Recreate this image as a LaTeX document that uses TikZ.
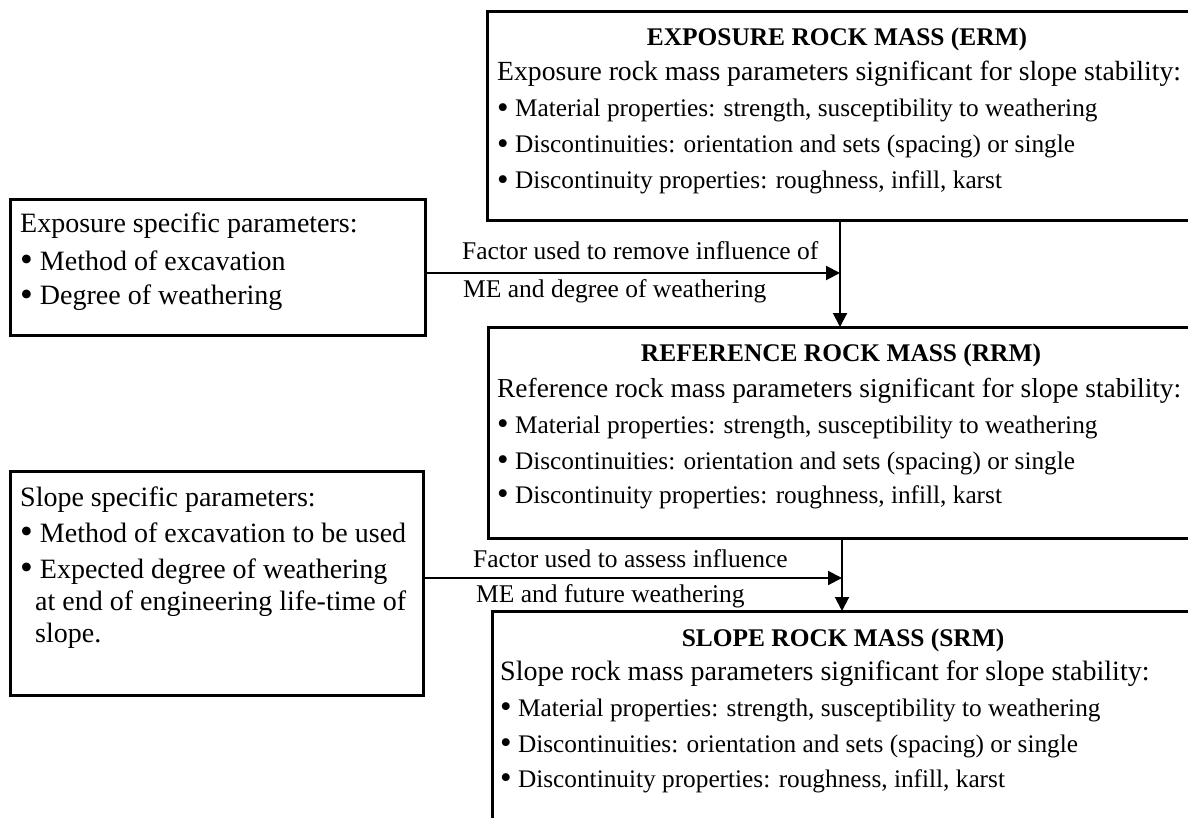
\documentclass[tikz,border=0pt]{standalone}
\usepackage{fontspec}
\setmainfont{Liberation Serif}
\usetikzlibrary{arrows.meta}
\newcommand{\mybullet}{\raisebox{-0.07em}{\scalebox{1.3}{\textbullet}}}
\begin{document}
\begin{tikzpicture}[x=1pt,y=-1pt,
  box/.style={draw, line width=3pt, inner sep=0pt, outer sep=0pt},
  big/.style={anchor=base west, inner sep=0pt, font=\fontsize{28}{34}\selectfont},
  bul/.style={anchor=base west, inner sep=0pt, font=\fontsize{25.3}{30}\selectfont},
  ttl/.style={anchor=base, inner sep=0pt, font=\fontsize{25.4}{30}\selectfont\bfseries},
  lab/.style={anchor=base west, inner sep=0pt, font=\fontsize{25.5}{30}\selectfont},
  arr/.style={line width=2pt, -{Triangle[length=14pt,width=14pt]}}
]
\path[use as bounding box, fill=white] (0,0) rectangle (1188,818);

% boxes
\node[box, minimum width=705pt, minimum height=209pt] (erm) at (839.5,116.5) {};
\node[box, minimum width=415pt, minimum height=135pt] (esp) at (217.5,267.5) {};
\node[box, minimum width=704pt, minimum height=211pt] (rrm) at (840,432.5) {};
\node[box, minimum width=413pt, minimum height=224pt] (ssp) at (216.5,583) {};
\node[box, minimum width=700pt, minimum height=289pt] (srm) at (842,755.5) {};

% ERM text
\node[ttl] (ermt) at (837,46) {EXPOSURE ROCK MASS (ERM)};
\node[big, font=\fontsize{27.7}{34}\selectfont] (ermi) at (497,81) {Exposure rock mass parameters significant for slope stability:};
\node[bul] (ermb1) at (497,117) {\mybullet\ Material properties: strength, susceptibility to weathering};
\node[bul] (ermb2) at (497,153) {\mybullet\ Discontinuities: orientation and sets (spacing) or single};
\node[bul] (ermb3) at (497,189) {\mybullet\ Discontinuity properties: roughness, infill, karst};

% ESP text
\node[big] (espi) at (20,233) {Exposure specific parameters:};
\node[big] (espb1) at (20,270) {\mybullet\ Method of excavation};
\node[big] (espb2) at (20,305) {\mybullet\ Degree of weathering};

% RRM text
\node[ttl] (rrmt) at (841,361) {REFERENCE ROCK MASS (RRM)};
\node[big, font=\fontsize{27.4}{34}\selectfont] (rrmi) at (497,397) {Reference rock mass parameters significant for slope stability:};
\node[bul] (rrmb1) at (497,433) {\mybullet\ Material properties: strength, susceptibility to weathering};
\node[bul] (rrmb2) at (497,469) {\mybullet\ Discontinuities: orientation and sets (spacing) or single};
\node[bul] (rrmb3) at (497,503) {\mybullet\ Discontinuity properties: roughness, infill, karst};

% SSP text
\node[big] (sspi) at (20,506) {Slope specific parameters:};
\node[big] (sspb1) at (20,542) {\mybullet\ Method of excavation to be used};
\node[big] (sspb2) at (20,578) {\mybullet\ Expected degree of weathering};
\node[big] (sspb3) at (35,610) {at end of engineering life-time of};
\node[big] (sspb4) at (35,642) {slope.};

% SRM text
\node[ttl] (srmt) at (843,646) {SLOPE ROCK MASS (SRM)};
\node[big] (srmi) at (500,680) {Slope rock mass parameters significant for slope stability:};
\node[bul] (srmb1) at (500,716) {\mybullet\ Material properties: strength, susceptibility to weathering};
\node[bul] (srmb2) at (500,752) {\mybullet\ Discontinuities: orientation and sets (spacing) or single};
\node[bul] (srmb3) at (500,787) {\mybullet\ Discontinuity properties: roughness, infill, karst};

% connectors
\coordinate (j1) at (840,273);
\coordinate (j2) at (842,578);
\draw[arr] (esp.east |- j1) -- (j1);
\draw[arr] (erm.south -| j1) -- (rrm.north -| j1);
\draw[arr] (ssp.east |- j2) -- (j2);
\draw[arr] (rrm.south -| j2) -- (srm.north -| j2);

% labels
\node[lab] (l1a) at (462,260) {Factor used to remove influence of};
\node[lab] (l1b) at (463,297) {ME and degree of weathering};
\node[lab] (l2a) at (473,567) {Factor used to assess influence};
\node[lab] (l2b) at (476,602) {ME and future weathering};
\end{tikzpicture}
\end{document}
